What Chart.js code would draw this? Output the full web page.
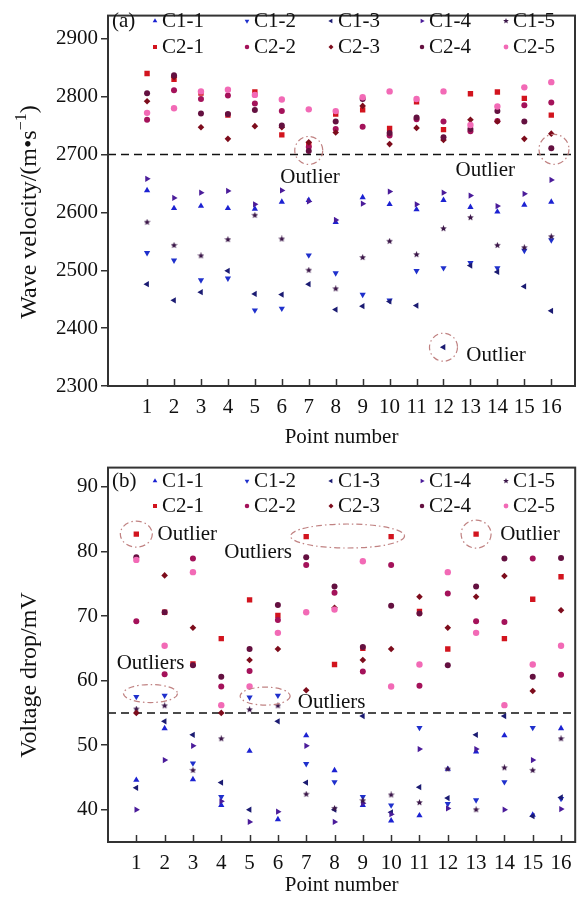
<!DOCTYPE html>
<html>
<head>
<meta charset="utf-8">
<script src="https://cdn.jsdelivr.net/npm/chart.js@4.4.0/dist/chart.umd.min.js"></script>
<style>
  html, body { margin: 0; padding: 0; background: #fff; }
  #wrap { width: 579px; height: 905px; }
  canvas { display: block; }
</style>
</head>
<body>
<div id="wrap">
  <canvas id="chartA" width="579" height="452"></canvas>
  <canvas id="chartB" width="579" height="453"></canvas>
</div>
<script>
// point numbers along x
const points = [1, 2, 3, 4, 5, 6, 7, 8, 9, 10, 11, 12, 13, 14, 15, 16];
const seriesNames = ["C1-1", "C1-2", "C1-3", "C1-4", "C1-5", "C2-1", "C2-2", "C2-3", "C2-4", "C2-5"];

// (a) wave velocity, m/s
const velC11 = [2638, 2607, 2611, 2607, 2606, 2618, 2621, 2583, 2626, 2614, 2605, 2621, 2609, 2601, 2613, 2618];
const velC12 = [2530, 2517, 2483, 2486, 2431, 2434, 2526, 2495, 2458, 2448, 2499, 2504, 2513, 2504, 2534, 2552];
const velC13 = [2476, 2448, 2462, 2499, 2459, 2458, 2476, 2432, 2438, 2446, 2439, 2367, 2508, 2497, 2472, 2430];
const velC14 = [2658, 2625, 2634, 2637, 2614, 2638, 2619, 2587, 2615, 2636, 2614, 2634, 2629, 2611, 2632, 2656];
const velC15 = [2583, 2543, 2525, 2553, 2595, 2554, 2500, 2468, 2522, 2550, 2527, 2572, 2591, 2543, 2539, 2558];
const velC21 = [2840, 2830, 2806, 2768, 2808, 2734, 2717, 2770, 2777, 2745, 2791, 2743, 2805, 2808, 2797, 2768];
const velC22 = [2760, 2811, 2796, 2802, 2788, 2775, 2713, 2744, 2748, 2733, 2761, 2757, 2740, 2758, 2785, 2790];
const velC23 = [2792, 2834, 2747, 2727, 2749, 2747, 2721, 2738, 2784, 2718, 2746, 2725, 2760, 2757, 2727, 2736];
const velC24 = [2806, 2837, 2771, 2770, 2777, 2750, 2706, 2757, 2796, 2737, 2764, 2730, 2744, 2775, 2757, 2711];
const velC25 = [2772, 2780, 2809, 2812, 2803, 2795, 2778, 2775, 2799, 2809, 2796, 2809, 2751, 2783, 2816, 2825];

// (b) voltage drop, mV
const volC11 = [44.6, 52.6, 44.7, 40.7, 49.1, 38.5, 51.5, 46.1, 40.7, 38.3, 39.1, 46.3, 49.0, 51.5, 39.2, 52.6];
const volC12 = [57.5, 57.7, 47.2, 42.0, 57.4, 57.7, 47.1, 44.3, 42.0, 40.7, 52.7, 40.9, 41.5, 44.3, 52.7, 41.7];
const volC13 = [43.4, 53.7, 51.6, 44.2, 40.0, 53.7, 44.2, 40.0, 54.5, 39.6, 43.5, 41.8, 51.6, 54.5, 39.0, 41.9];
const volC14 = [40.0, 47.7, 49.9, 41.3, 38.1, 39.7, 49.9, 38.1, 41.0, 39.3, 49.4, 40.2, 49.4, 40.0, 47.7, 40.1];
const volC15 = [55.6, 56.1, 46.1, 51.0, 55.5, 56.1, 42.4, 40.2, 41.4, 42.3, 41.1, 46.3, 40.0, 46.5, 46.1, 51.0];
const volC21 = [82.7, 70.6, 62.6, 66.5, 72.5, 70.1, 82.3, 62.5, 65.0, 82.3, 70.7, 64.9, 82.7, 66.5, 72.6, 76.1];
const volC22 = [69.2, 61.0, 78.9, 59.1, 61.5, 69.4, 77.9, 73.6, 61.4, 77.9, 59.2, 73.5, 69.2, 69.1, 78.9, 60.9];
const volC23 = [55.0, 76.3, 68.2, 55.0, 63.2, 64.9, 58.5, 71.3, 63.2, 64.9, 73.0, 68.2, 73.0, 76.2, 58.4, 70.9];
const volC24 = [79.1, 70.6, 62.4, 60.6, 64.9, 71.7, 79.1, 74.6, 65.2, 71.6, 70.4, 62.4, 74.6, 78.9, 60.6, 79.0];
const volC25 = [78.7, 65.4, 76.8, 56.2, 59.1, 67.4, 70.6, 71.0, 78.5, 59.1, 62.5, 76.8, 67.4, 56.2, 62.5, 65.4];

const velTicks = [2300, 2400, 2500, 2600, 2700, 2800, 2900];
const volTicks = [40, 50, 60, 70, 80, 90];
const velLimit = 2700;
const volLimit = 55;

const FONT = "'Liberation Serif', 'Times New Roman', serif";
const INK = "#111";

// marker look per series
const colors = ["#1c22d2", "#1f30cc", "#1b1b72", "#4b1c9a", "#3a1548",
                "#d2141e", "#a4125a", "#7d0c1c", "#641040", "#f26ab6"];
const shapes = ["triangle", "triangle", "triangle", "triangle", "star",
                "rect", "circle", "rectRot", "circle", "circle"];
const rotations = [0, 180, -90, 90, 0, 0, 0, 0, 0, 0];
const radii = [3.6, 3.6, 3.6, 3.6, 3.5, 3.8, 3, 3.3, 3, 3.2];

function starCanvas(color, size) {
    const c = document.createElement("canvas");
    c.width = size; c.height = size;
    const g = c.getContext("2d");
    const cx = size / 2, cy = size / 2, R = size / 2, r = R * 0.45;
    g.fillStyle = color;
    g.beginPath();
    for (let i = 0; i < 10; i++) {
        const rad = (i % 2 === 0) ? R : r;
        const a = -Math.PI / 2 + i * Math.PI / 5;
        g.lineTo(cx + rad * Math.cos(a), cy + rad * Math.sin(a));
    }
    g.closePath();
    g.fill();
    return c;
}

function pointStyleFor(i, size) {
    return shapes[i] === "star" ? starCanvas(colors[i], size) : shapes[i];
}

function makeDatasets(seriesList) {
    return seriesList.map((values, i) => ({
        label: seriesNames[i],
        data: values.map((v, k) => ({ x: points[k], y: v })),
        pointStyle: pointStyleFor(i, 7),
        rotation: rotations[i],
        pointRadius: radii[i],
        pointHoverRadius: radii[i],
        backgroundColor: colors[i],
        borderColor: colors[i],
        borderWidth: 0,
        order: 10 - i
    }));
}

// frame, reference line, inner x ticks, legend, outlier notes, y title
const panelPlugin = {
    id: "panel",
    beforeDatasetsDraw(chart, args, o) {
        const { ctx, chartArea: a } = chart;
        const yy = chart.scales.y.getPixelForValue(o.limit);
        ctx.save();
        ctx.strokeStyle = INK;
        ctx.lineWidth = 1.5;
        ctx.setLineDash([8, 5]);
        ctx.beginPath();
        ctx.moveTo(a.left, yy);
        ctx.lineTo(a.right, yy);
        ctx.stroke();
        ctx.restore();
    },
    afterDatasetsDraw(chart, args, o) {
        const { ctx, chartArea: a } = chart;
        const xs = chart.scales.x, ys = chart.scales.y;
        ctx.save();

        // frame
        ctx.strokeStyle = "#333";
        ctx.lineWidth = 2;
        ctx.strokeRect(a.left, a.top, a.right - a.left, a.bottom - a.top);

        // x ticks pointing inward
        ctx.lineWidth = 1.5;
        points.forEach(v => {
            const px = Math.round(xs.getPixelForValue(v)) + 0.5;
            ctx.beginPath();
            ctx.moveTo(px, a.bottom);
            ctx.lineTo(px, a.bottom - 7);
            ctx.stroke();
        });

        // outlier notes
        o.notes.forEach(n => {
            const px = xs.getPixelForValue(n.x), py = ys.getPixelForValue(n.y);
            if (n.rx) {
                ctx.strokeStyle = "#c08282";
                ctx.lineWidth = 1.2;
                ctx.setLineDash([6, 3, 1.5, 3]);
                ctx.beginPath();
                ctx.ellipse(px, py, n.rx, n.ry, 0, 0, Math.PI * 2);
                ctx.stroke();
                ctx.setLineDash([]);
            } else {
                ctx.fillStyle = INK;
                ctx.font = "21px " + FONT;
                ctx.textAlign = "center";
                ctx.textBaseline = "middle";
                ctx.fillText(n.text, px, py);
            }
        });

        // legend
        ctx.font = "21px " + FONT;
        ctx.textBaseline = "middle";
        ctx.textAlign = "left";
        ctx.fillStyle = INK;
        ctx.fillText(o.tag, 112, o.legendRows[0]);
        chart.data.datasets.forEach((ds, i) => {
            const col = i % 5, row = Math.floor(i / 5);
            const mx = o.legendCols[col], my = o.legendRows[row];
            ctx.fillStyle = ds.backgroundColor;
            ctx.strokeStyle = ds.borderColor;
            Chart.helpers.drawPoint(ctx, {
                pointStyle: shapes[i] === "star" ? starCanvas(colors[i], 6) : shapes[i],
                rotation: ds.rotation,
                radius: ds.pointRadius * 0.75,
                borderWidth: 0
            }, mx, my);
            ctx.fillStyle = INK;
            ctx.fillText(ds.label, mx + 7, my);
        });

        // y axis title
        ctx.translate(o.titleX, o.titleY);
        ctx.rotate(-Math.PI / 2);
        ctx.fillStyle = INK;
        const parts = o.title;
        const big = "24px " + FONT, small = "16px " + FONT;
        let total = 0;
        parts.forEach(p => {
            ctx.font = p.sup ? small : big;
            total += ctx.measureText(p.t).width;
        });
        let cx = -total / 2;
        ctx.textAlign = "left";
        parts.forEach(p => {
            ctx.font = p.sup ? small : big;
            ctx.fillText(p.t, cx, p.sup ? -8 : 0);
            cx += ctx.measureText(p.t).width;
        });
        ctx.restore();
    }
};

function buildChart(id, seriesList, cfg) {
    return new Chart(document.getElementById(id), {
        type: "scatter",
        data: { datasets: makeDatasets(seriesList) },
        options: {
            responsive: false,
            animation: false,
            devicePixelRatio: 1,
            layout: { padding: { top: cfg.padTop, right: cfg.padRight, left: 0, bottom: 0 } },
            plugins: {
                legend: { display: false },
                tooltip: { enabled: false },
                panel: {
                    limit: cfg.limit,
                    notes: cfg.notes,
                    tag: cfg.tag,
                    legendCols: [155, 247, 331, 422, 506],
                    legendRows: cfg.legendRows,
                    title: cfg.yTitle,
                    titleX: 30,
                    titleY: cfg.yTitleCenter
                }
            },
            scales: {
                x: {
                    type: "linear",
                    min: cfg.xMin,
                    max: cfg.xMax,
                    afterBuildTicks: s => { s.ticks = points.map(v => ({ value: v })); },
                    afterFit: s => { s.height = cfg.xAxisHeight; },
                    grid: { display: false },
                    border: { display: false },
                    ticks: {
                        autoSkip: false,
                        maxRotation: 0,
                        padding: cfg.xLabelPad,
                        color: INK,
                        font: { family: FONT, size: 21 },
                        callback: v => String(v)
                    },
                    title: {
                        display: true,
                        text: "Point number",
                        color: INK,
                        font: { family: FONT, size: 21 },
                        padding: { top: 0, bottom: cfg.xTitlePad }
                    }
                },
                y: {
                    type: "linear",
                    min: cfg.yMin,
                    max: cfg.yMax,
                    afterBuildTicks: s => { s.ticks = cfg.yTicks.map(v => ({ value: v })); },
                    afterFit: s => { s.width = 108; },
                    grid: {
                        display: true,
                        drawOnChartArea: false,
                        drawTicks: true,
                        tickLength: 7,
                        color: "#333",
                        lineWidth: 1.5
                    },
                    border: { display: false },
                    ticks: {
                        padding: 3,
                        color: INK,
                        font: { family: FONT, size: 21 },
                        callback: v => String(v)
                    }
                }
            }
        },
        plugins: [panelPlugin]
    });
}

buildChart("chartA",
    [velC11, velC12, velC13, velC14, velC15, velC21, velC22, velC23, velC24, velC25],
    {
        padTop: 10, padRight: 4,
        xMin: -0.45, xMax: 16.88, xAxisHeight: 66, xLabelPad: 1, xTitlePad: 2,
        yMin: 2300, yMax: 2940, yTicks: velTicks, limit: velLimit,
        tag: "(a)", legendRows: [21, 47],
        yTitle: [{ t: "Wave velocity/(m\u2022s" }, { t: "\u22121", sup: true }, { t: ")" }],
        yTitleCenter: 212,
        notes: [
            { x: 7, y: 2707, rx: 14, ry: 14 },
            { x: 7.05, y: 2660, text: "Outlier" },
            { x: 16.1, y: 2709, rx: 15, ry: 15 },
            { x: 13.55, y: 2672, text: "Outlier" },
            { x: 12, y: 2367, rx: 14, ry: 14 },
            { x: 13.95, y: 2352, text: "Outlier" }
        ]
    });

buildChart("chartB",
    [volC11, volC12, volC13, volC14, volC15, volC21, volC22, volC23, volC24, volC25],
    {
        padTop: 11, padRight: 3,
        xMin: 0, xMax: 16.5, xAxisHeight: 63, xLabelPad: 1, xTitlePad: 7,
        yMin: 35, yMax: 93, yTicks: volTicks, limit: volLimit,
        tag: "(b)", legendRows: [29, 54],
        yTitle: [{ t: "Voltage drop/mV" }],
        yTitleCenter: 223,
        notes: [
            { x: 1, y: 82.7, rx: 16, ry: 13 },
            { x: 2.8, y: 82.6, text: "Outlier" },
            { x: 8.46, y: 82.4, rx: 57, ry: 12 },
            { x: 5.3, y: 79.8, text: "Outliers" },
            { x: 13, y: 82.7, rx: 15, ry: 14 },
            { x: 14.9, y: 82.7, text: "Outlier" },
            { x: 1.5, y: 58.0, rx: 27, ry: 9 },
            { x: 1.5, y: 62.7, text: "Outliers" },
            { x: 5.55, y: 57.6, rx: 25, ry: 9 },
            { x: 7.9, y: 56.6, text: "Outliers" }
        ]
    });
</script>
</body>
</html>
